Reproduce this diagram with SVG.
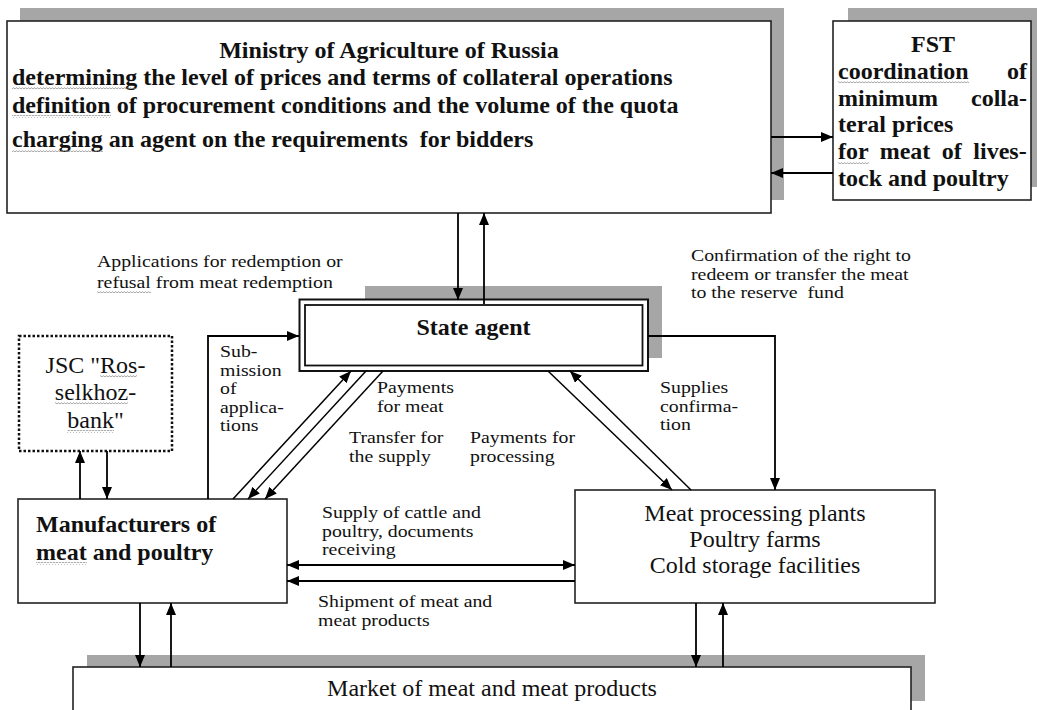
<svg xmlns="http://www.w3.org/2000/svg" width="1037" height="710" viewBox="0 0 1037 710">
<style>
text{font-family:"Liberation Serif","Times New Roman",serif;fill:#111;white-space:pre}
.b{font-weight:bold;font-size:24px}
.r{font-size:24px}
.l{font-size:16.5px}
.box{fill:#fff;stroke:#222;stroke-width:1.6}
.sh{fill:#a6a6a6}
.c{stroke:#000;stroke-width:1.8;fill:none}
.d{stroke:#000;stroke-width:1.5;fill:none}
.w{fill:url(#wavy)}
</style>
<defs>
<marker id="ah" markerUnits="userSpaceOnUse" markerWidth="12" markerHeight="10" refX="12" refY="5" orient="auto-start-reverse">
<path d="M0,0 L12,5 L0,10 z" fill="#000"/>
</marker>
<pattern id="wavy" patternUnits="userSpaceOnUse" width="3" height="3">
<path d="M0 2.2 L1.5 0.6 L3 2.2" stroke="#777" stroke-width="0.7" fill="none"/>
</pattern>
</defs>

<g id="ministry">
<rect class="sh" x="20" y="8" width="764" height="192"/>
<rect class="box" x="7" y="21" width="764" height="192"/>
<text class="b" x="389" y="58" text-anchor="middle">Ministry of Agriculture of Russia</text>
<text class="b" x="12" y="85">determining the level of prices and terms of collateral operations</text>
<text class="b" x="12" y="113">definition of procurement conditions and the volume of the quota</text>
<text class="b" x="12" y="147">charging an agent on the requirements  for bidders</text>
<rect class="w" x="12" y="87" width="125" height="3"/>
<rect class="w" x="12" y="115" width="99" height="3"/>
<rect class="w" x="12" y="149" width="91" height="3"/>
</g>

<g id="fst">
<rect class="sh" x="848" y="8" width="198" height="179"/>
<rect class="box" x="833" y="21" width="198" height="179"/>
<text class="b" x="933" y="52" text-anchor="middle">FST</text>
<text class="b" x="838" y="79">coordination</text>
<text class="b" x="1027" y="79" text-anchor="end">of</text>
<text class="b" x="838" y="106">minimum</text>
<text class="b" x="1027" y="106" text-anchor="end">colla-</text>
<text class="b" x="838" y="132">teral prices</text>
<text class="b" x="838" y="159" word-spacing="5.5">for meat of lives-</text>
<text class="b" x="838" y="186">tock and poultry</text>
<rect class="w" x="838" y="81" width="131" height="3"/>
<rect class="w" x="838" y="161" width="31" height="3"/>
</g>

<g id="state-agent">
<rect class="sh" x="365" y="286" width="297" height="72"/>
<rect x="299.5" y="299.5" width="348.5" height="71.5" fill="#fff" stroke="#111" stroke-width="2"/>
<rect x="305" y="305" width="337.5" height="60.5" fill="none" stroke="#111" stroke-width="1.8"/>
<text class="b" x="473.5" y="335" text-anchor="middle">State agent</text>
</g>

<g id="jsc">
<rect x="19" y="336" width="153" height="115" fill="#fff" stroke="#111" stroke-width="2.5" stroke-dasharray="2.5 2"/>
<text class="r" x="95.5" y="373" text-anchor="middle">JSC "Ros-</text>
<text class="r" x="95.5" y="400" text-anchor="middle">selkhoz-</text>
<text class="r" x="95.5" y="428" text-anchor="middle">bank"</text>
<rect class="w" x="100" y="375" width="37" height="3"/>
<rect class="w" x="55" y="402" width="73" height="3"/>
<rect class="w" x="67" y="430" width="47" height="3"/>
</g>

<g id="manufacturers">
<rect class="box" x="18" y="499" width="269" height="104"/>
<text class="b" x="36" y="532">Manufacturers of</text>
<text class="b" x="36" y="560">meat and poultry</text>
<rect class="w" x="36" y="562" width="51" height="3"/>
</g>

<g id="meat-processing">
<rect class="box" x="575" y="490" width="360" height="113"/>
<text class="r" x="755" y="521" text-anchor="middle">Meat processing plants</text>
<text class="r" x="755" y="547" text-anchor="middle">Poultry farms</text>
<text class="r" x="755" y="573" text-anchor="middle">Cold storage facilities</text>
</g>

<g id="market">
<rect class="sh" x="87" y="655" width="838" height="46"/>
<rect class="box" x="73" y="667" width="838" height="50"/>
<text class="r" x="492" y="696" text-anchor="middle">Market of meat and meat products</text>
</g>

<g id="connectors">
<line class="c" x1="771" y1="137" x2="833" y2="137" marker-end="url(#ah)"/>
<line class="c" x1="833" y1="173" x2="771" y2="173" marker-end="url(#ah)"/>
<line class="c" x1="458" y1="213" x2="458" y2="300" marker-end="url(#ah)"/>
<line class="c" x1="484" y1="304" x2="484" y2="213" marker-end="url(#ah)"/>
<path class="c" d="M208,499 V336 H299" marker-end="url(#ah)"/>
<path class="c" d="M648,336 H775 V490" marker-end="url(#ah)"/>
<line class="d" x1="233" y1="499" x2="351" y2="371" marker-end="url(#ah)"/>
<line class="d" x1="366" y1="371" x2="248" y2="499" marker-end="url(#ah)"/>
<line class="d" x1="383" y1="371" x2="265" y2="499" marker-end="url(#ah)"/>
<line class="d" x1="548" y1="371" x2="672" y2="490" marker-end="url(#ah)"/>
<line class="d" x1="691" y1="490" x2="570" y2="371" marker-end="url(#ah)"/>
<line class="c" x1="287" y1="565" x2="575" y2="565" marker-start="url(#ah)" marker-end="url(#ah)"/>
<line class="c" x1="575" y1="581" x2="287" y2="581" marker-end="url(#ah)"/>
<line class="c" x1="80" y1="499" x2="80" y2="451" marker-end="url(#ah)"/>
<line class="c" x1="107" y1="451" x2="107" y2="499" marker-end="url(#ah)"/>
<line class="c" x1="140" y1="603" x2="140" y2="667" marker-end="url(#ah)"/>
<line class="c" x1="171" y1="667" x2="171" y2="603" marker-end="url(#ah)"/>
<line class="c" x1="696" y1="603" x2="696" y2="667" marker-end="url(#ah)"/>
<line class="c" x1="723" y1="667" x2="723" y2="603" marker-end="url(#ah)"/>
</g>

<g id="labels">
<text class="l" transform="translate(97 267) scale(1.2 1)">Applications for redemption or</text>
<text class="l" transform="translate(97 288) scale(1.2 1)">refusal from meat redemption</text>
<rect class="w" x="97" y="290" width="54" height="3"/>
<text class="l" transform="translate(691 261) scale(1.2 1)">Confirmation of the right to</text>
<text class="l" transform="translate(691 279.5) scale(1.2 1)">redeem or transfer the meat</text>
<text class="l" transform="translate(691 298) scale(1.2 1)">to the reserve  fund</text>
<text class="l" transform="translate(220 357) scale(1.2 1)">Sub-</text>
<text class="l" transform="translate(220 375.5) scale(1.2 1)">mission</text>
<text class="l" transform="translate(220 394) scale(1.2 1)">of</text>
<text class="l" transform="translate(220 412.5) scale(1.2 1)">applica-</text>
<text class="l" transform="translate(220 431) scale(1.2 1)">tions</text>
<text class="l" transform="translate(377 393) scale(1.2 1)">Payments</text>
<text class="l" transform="translate(377 411.5) scale(1.2 1)">for meat</text>
<text class="l" transform="translate(349 443) scale(1.2 1)">Transfer for</text>
<text class="l" transform="translate(349 461.5) scale(1.2 1)">the supply</text>
<text class="l" transform="translate(470 443) scale(1.2 1)">Payments for</text>
<text class="l" transform="translate(470 461.5) scale(1.2 1)">processing</text>
<text class="l" transform="translate(660 393) scale(1.2 1)">Supplies</text>
<text class="l" transform="translate(660 411.5) scale(1.2 1)">confirma-</text>
<text class="l" transform="translate(660 430) scale(1.2 1)">tion</text>
<text class="l" transform="translate(322 518) scale(1.2 1)">Supply of cattle and</text>
<text class="l" transform="translate(322 536.5) scale(1.2 1)">poultry, documents</text>
<text class="l" transform="translate(322 555) scale(1.2 1)">receiving</text>
<text class="l" transform="translate(318 607) scale(1.2 1)">Shipment of meat and</text>
<text class="l" transform="translate(318 625.5) scale(1.2 1)">meat products</text>
</g>
</svg>
